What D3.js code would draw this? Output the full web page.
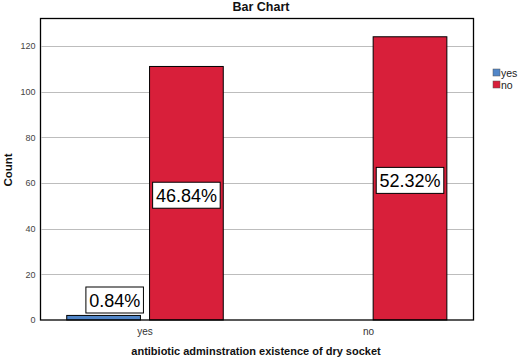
<!DOCTYPE html>
<html>
<head>
<meta charset="utf-8">
<script src="https://cdn.jsdelivr.net/npm/d3@7"></script>
<style>
  html, body { margin: 0; padding: 0; background: #fff; }
  svg { display: block; font-family: "Liberation Sans", Arial, sans-serif; }
</style>
</head>
<body>
<svg id="chart" width="522" height="359"></svg>
<script>
// ---- data ----
const categories = ["yes", "no"];           // antibiotic adminstration
const seriesNames = ["yes", "no"];          // existence of dry socket
const valuesYes = [2, 0];                   // dry socket = yes
const valuesNo = [111, 124];                // dry socket = no
const percentYes = ["0.84%", null];
const percentNo = ["46.84%", "52.32%"];
const yTicks = [0, 20, 40, 60, 80, 100, 120];
const colors = ["#5186c8", "#d81f3a"];

const svg = d3.select("#chart");
const frame = { left: 40.5, right: 473.5, top: 18.5, bottom: 320 };

const x0 = d3.scaleBand().domain(categories).range([33.2, 480.4]).paddingInner(0.3).paddingOuter(0.15);
const x1 = d3.scaleBand().domain(seriesNames).range([0, x0.bandwidth()]).paddingInner(0.11).paddingOuter(0);
const y = d3.scaleLinear().domain([0, 132]).range([frame.bottom, frame.top]);
const color = d3.scaleOrdinal().domain(seriesNames).range(colors);

// gridlines
svg.append("g").selectAll("line").data(yTicks.filter(t => t > 0)).join("line")
  .attr("x1", frame.left + 1).attr("x2", frame.right)
  .attr("y1", d => Math.round(y(d)) + 0.5).attr("y2", d => Math.round(y(d)) + 0.5)
  .attr("stroke", "#bdbdbd").attr("stroke-width", 1);

// y axis tick labels
const yAxis = d3.axisLeft(y).tickValues(yTicks).tickSize(0).tickPadding(5);
const gy = svg.append("g").attr("transform", `translate(${frame.left},0)`).call(yAxis);
gy.select(".domain").remove();
gy.selectAll("text").attr("font-size", 9).attr("fill", "#444")
  .attr("font-family", "'Liberation Sans', Arial, sans-serif");

// bars
const rows = categories.map((c, i) => ({
  cat: c,
  items: [
    { s: "yes", v: valuesYes[i], p: percentYes[i] },
    { s: "no", v: valuesNo[i], p: percentNo[i] }
  ]
}));

const groups = svg.append("g").selectAll("g").data(rows).join("g")
  .attr("transform", d => `translate(${x0(d.cat)},0)`);

groups.selectAll("rect").data(d => d.items.filter(it => it.v > 0)).join("rect")
  .attr("x", d => x1(d.s))
  .attr("y", d => y(d.v))
  .attr("width", x1.bandwidth())
  .attr("height", d => y(0) - y(d.v))
  .attr("fill", d => color(d.s))
  .attr("stroke", "#000").attr("stroke-width", 1);

// frame (drawn above bars)
svg.append("rect")
  .attr("x", frame.left).attr("y", frame.top)
  .attr("width", frame.right - frame.left).attr("height", frame.bottom - frame.top)
  .attr("fill", "none").attr("stroke", "#000").attr("stroke-width", 1.3);

// x axis tick labels
const xAxis = d3.axisBottom(x0).tickSize(0).tickPadding(8);
const gx = svg.append("g").attr("transform", `translate(0,${frame.bottom})`).call(xAxis);
gx.select(".domain").remove();
gx.selectAll("text").attr("font-size", 10).attr("fill", "#333")
  .attr("font-family", "'Liberation Sans', Arial, sans-serif");

// percentage labels
const labelLayer = svg.append("g");
const boxH = 26;
rows.forEach(r => {
  r.items.forEach(it => {
    if (!it.p) return;
    const bx = x0(r.cat) + x1(it.s);
    const bw = x1.bandwidth();
    const t = labelLayer.append("text")
      .attr("font-size", 18).attr("fill", "#000")
      .attr("text-anchor", "middle")
      .text(it.p);
    const tw = t.node().getComputedTextLength();
    const boxW = tw + 6.5;
    let cy = y(it.v / 2) + 2;
    let cx = bx + bw / 2;
    if (cy + boxH / 2 > y(0) - 7) {
      cy = y(0) - 7 - boxH / 2;
      cx = bx + bw + 3 - boxW / 2;
    }
    labelLayer.insert("rect", "text")
      .attr("x", cx - boxW / 2).attr("y", cy - boxH / 2)
      .attr("width", boxW).attr("height", boxH)
      .attr("fill", "#fff").attr("stroke", "#000").attr("stroke-width", 1);
    t.attr("x", cx).attr("y", cy + 6.5);
  });
});

// titles
svg.append("text").attr("x", 261).attr("y", 11).attr("text-anchor", "middle")
  .attr("font-size", 12.5).attr("font-weight", "bold").attr("fill", "#111").text("Bar Chart");
svg.append("text").attr("transform", "translate(11.5,170) rotate(-90)").attr("text-anchor", "middle")
  .attr("font-size", 11.5).attr("font-weight", "bold").attr("fill", "#111").text("Count");
svg.append("text").attr("x", 256).attr("y", 355).attr("text-anchor", "middle")
  .attr("font-size", 11).attr("font-weight", "bold").attr("fill", "#111")
  .text("antibiotic adminstration existence of dry socket");

// legend
const lg = svg.append("g").attr("transform", "translate(493,69)");
const li = lg.selectAll("g").data(seriesNames).join("g")
  .attr("transform", (d, i) => `translate(0,${i * 12})`);
li.append("rect").attr("width", 7).attr("height", 7)
  .attr("fill", d => color(d)).attr("stroke", "#555").attr("stroke-width", 0.5);
li.append("text").attr("x", 8).attr("y", 7.5).attr("font-size", 10.5).attr("fill", "#222").text(d => d);
</script>
</body>
</html>
